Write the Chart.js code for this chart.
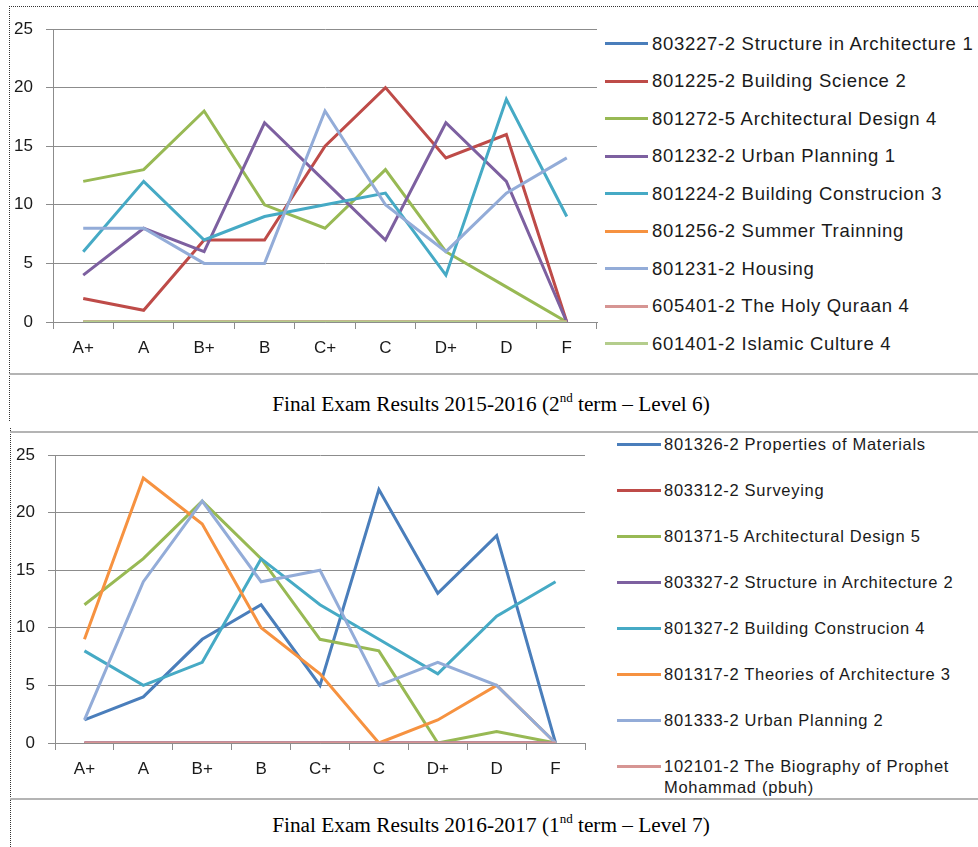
<!DOCTYPE html>
<html>
<head>
<meta charset="utf-8">
<script src="https://cdn.jsdelivr.net/npm/chart.js@4.4.1/dist/chart.umd.min.js"></script>
<style>
  body { margin: 0; background: #fff; }
  #page { position: relative; width: 978px; height: 847px; overflow: hidden; }
  canvas { position: absolute; }
  .dotL { position: absolute; border-left: 1px dotted #333; }
  .dotT { position: absolute; border-top: 1px dotted #333; }
  .rule { position: absolute; height: 0; border-top: 2px solid #b4b4b4; }
  .caption { position: absolute; left: 4px; width: 974px; text-align: center;
    font-family: "Liberation Serif", serif; font-size: 21.3px; color: #000; }
  .caption sup { font-size: 13px; position: relative; top: -1px; }
  .legend { position: absolute; font-family: "Liberation Sans", sans-serif; color: #1a1a1a; }
  .legend .item { position: absolute; left: 0; white-space: normal; }
  .legend .swatch { position: absolute; height: 3px; }
</style>
</head>
<body>
<div id="page">
  <div class="dotT" style="left:9px; top:6px; width:969px;"></div>
  <div class="dotL" style="left:9px; top:6px; height:415px;"></div>
  <div class="rule" style="left:9px; top:373px; width:969px;"></div>
  <canvas id="chart1" width="600" height="360" style="left:0; top:0;"></canvas>
  <div id="legend1" class="legend" style="left:605px; top:0; width:373px; height:370px; font-size:18.5px; letter-spacing:0.7px;"></div>
  <div class="caption" style="top:391px;">Final Exam Results 2015-2016 (2<sup>nd</sup> term – Level 6)</div>

  <div class="dotL" style="left:10px; top:428px; height:419px;"></div>
  <div class="rule" style="left:10px; top:431px; width:968px;"></div>
  <div class="rule" style="left:10px; top:798px; width:968px;"></div>
  <canvas id="chart2" width="590" height="360" style="left:0; top:425px;"></canvas>
  <div id="legend2" class="legend" style="left:617px; top:425px; width:361px; height:370px; font-size:16.5px; letter-spacing:0.7px;"></div>
  <div class="caption" style="top:812px;">Final Exam Results 2016-2017 (1<sup>nd</sup> term – Level 7)</div>
</div>

<script>
// kategorie známek na ose x
const grades = ["A+", "A", "B+", "B", "C+", "C", "D+", "D", "F"];

// 2015-2016, 2. semestr - level 6
const courses1 = [
  "803227-2 Structure in Architecture 1",
  "801225-2 Building Science 2",
  "801272-5 Architectural Design 4",
  "801232-2 Urban Planning 1",
  "801224-2 Building Construcion 3",
  "801256-2 Summer Trainning",
  "801231-2 Housing",
  "605401-2 The Holy Quraan 4",
  "601401-2 Islamic Culture 4",
];
const structure1 = [0, 0, 0, 0, 0, 0, 0, 0, 0];
const buildingScience2 = [2, 1, 7, 7, 15, 20, 14, 16, 0];
const archDesign4 = [12, 13, 18, 10, 8, 13, 6, 3, 0];
const urbanPlanning1 = [4, 8, 6, 17, 12, 7, 17, 12, 0];
const buildingConstruction3 = [6, 12, 7, 9, 10, 11, 4, 19, 9];
const summerTraining = [0, 0, 0, 0, 0, 0, 0, 0, 0];
const housing = [8, 8, 5, 5, 18, 10, 6, 11, 14];
const holyQuraan4 = [0, 0, 0, 0, 0, 0, 0, 0, 0];
const islamicCulture4 = [0, 0, 0, 0, 0, 0, 0, 0, 0];

// 2016-2017, 1. semestr - level 7
const courses2 = [
  "801326-2 Properties of Materials",
  "803312-2 Surveying",
  "801371-5 Architectural Design 5",
  "803327-2 Structure in Architecture 2",
  "801327-2 Building Construcion 4",
  "801317-2 Theories of Architecture 3",
  "801333-2 Urban Planning 2",
  "102101-2 The Biography of Prophet Mohammad (pbuh)",
];
const propertiesMaterials = [2, 4, 9, 12, 5, 22, 13, 18, 0];
const surveying = [0, 0, 0, 0, 0, 0, 0, 0, 0];
const archDesign5 = [12, 16, 21, 16, 9, 8, 0, 1, 0];
const structure2 = [0, 0, 0, 0, 0, 0, 0, 0, 0];
const buildingConstruction4 = [8, 5, 7, 16, 12, 9, 6, 11, 14];
const theories3 = [9, 23, 19, 10, 6, 0, 2, 5, 0];
const urbanPlanning2 = [2, 14, 21, 14, 15, 5, 7, 5, 0];
const biography = [0, 0, 0, 0, 0, 0, 0, 0, 0];

// barvy řad (paleta Excelu)
const palette = ["#4a7ebb", "#be4b48", "#98b954", "#7d60a0", "#46aac5",
                 "#f69240", "#93acd8", "#d69593", "#b4cd8c"];

const gridColor = "#8c8c8c";
const tickFont = { family: "Liberation Sans", size: 17 };

function buildDatasets(names, series) {
  const n = series.length;
  return series.map((values, i) => ({
    label: names[i],
    data: values,
    borderColor: palette[i],
    backgroundColor: palette[i],
    borderWidth: 3,
    pointRadius: 0,
    tension: 0,
    // poslední řada se kreslí navrch (jako v Excelu)
    order: n - 1 - i,
  }));
}

function makeChart(id, datasets, cfg) {
  const ctx = document.getElementById(id).getContext("2d");
  return new Chart(ctx, {
    type: "line",
    data: { labels: grades, datasets },
    options: {
      responsive: false,
      animation: false,
      devicePixelRatio: 1,
      layout: { padding: cfg.padding },
      plugins: { legend: { display: false }, tooltip: { enabled: false } },
      scales: {
        x: {
          offset: true,
          grid: { offset: true, drawOnChartArea: false, drawTicks: true, tickLength: 7, color: gridColor },
          border: { color: gridColor },
          ticks: { font: tickFont, color: "#1a1a1a", padding: 9, maxRotation: 0 },
          afterFit: (axis) => { axis.height = cfg.xHeight; },
        },
        y: {
          min: 0,
          max: 25,
          grid: { color: gridColor, tickLength: 7 },
          border: { color: gridColor },
          ticks: { stepSize: 5, font: tickFont, color: "#1a1a1a", padding: 13 },
          afterFit: (axis) => { axis.width = cfg.yWidth; },
        },
      },
    },
  });
}

function buildLegend(id, datasets, opts) {
  const box = document.getElementById(id);
  datasets.forEach((ds, i) => {
    const item = document.createElement("div");
    item.className = "item";
    item.style.top = (opts.first + i * opts.step - opts.lineH / 2) + "px";
    item.style.width = opts.width + "px";
    item.style.lineHeight = opts.lineH + "px";
    const sw = document.createElement("div");
    sw.className = "swatch";
    sw.style.background = ds.borderColor;
    sw.style.left = "0px";
    sw.style.width = opts.swatchW + "px";
    sw.style.top = (opts.lineH / 2 - 1.5) + "px";
    const txt = document.createElement("div");
    txt.style.marginLeft = opts.textX + "px";
    txt.textContent = ds.label;
    item.appendChild(sw);
    item.appendChild(txt);
    box.appendChild(item);
  });
}

const ds1 = buildDatasets(courses1, [structure1, buildingScience2, archDesign4, urbanPlanning1,
  buildingConstruction3, summerTraining, housing, holyQuraan4, islamicCulture4]);
const ds2 = buildDatasets(courses2, [propertiesMaterials, surveying, archDesign5, structure2,
  buildingConstruction4, theories3, urbanPlanning2, biography]);

makeChart("chart1", ds1, { padding: { top: 29, right: 3, bottom: 0, left: 0 }, yWidth: 53, xHeight: 38 });
makeChart("chart2", ds2, { padding: { top: 30, right: 5, bottom: 0, left: 0 }, yWidth: 55, xHeight: 42 });

buildLegend("legend1", ds1, { first: 43.5, step: 37.5, lineH: 22, swatchW: 43, textX: 47, width: 373 });
buildLegend("legend2", ds2, { first: 19, step: 46, lineH: 21, swatchW: 44, textX: 47, width: 350 });
</script>
</body>
</html>
